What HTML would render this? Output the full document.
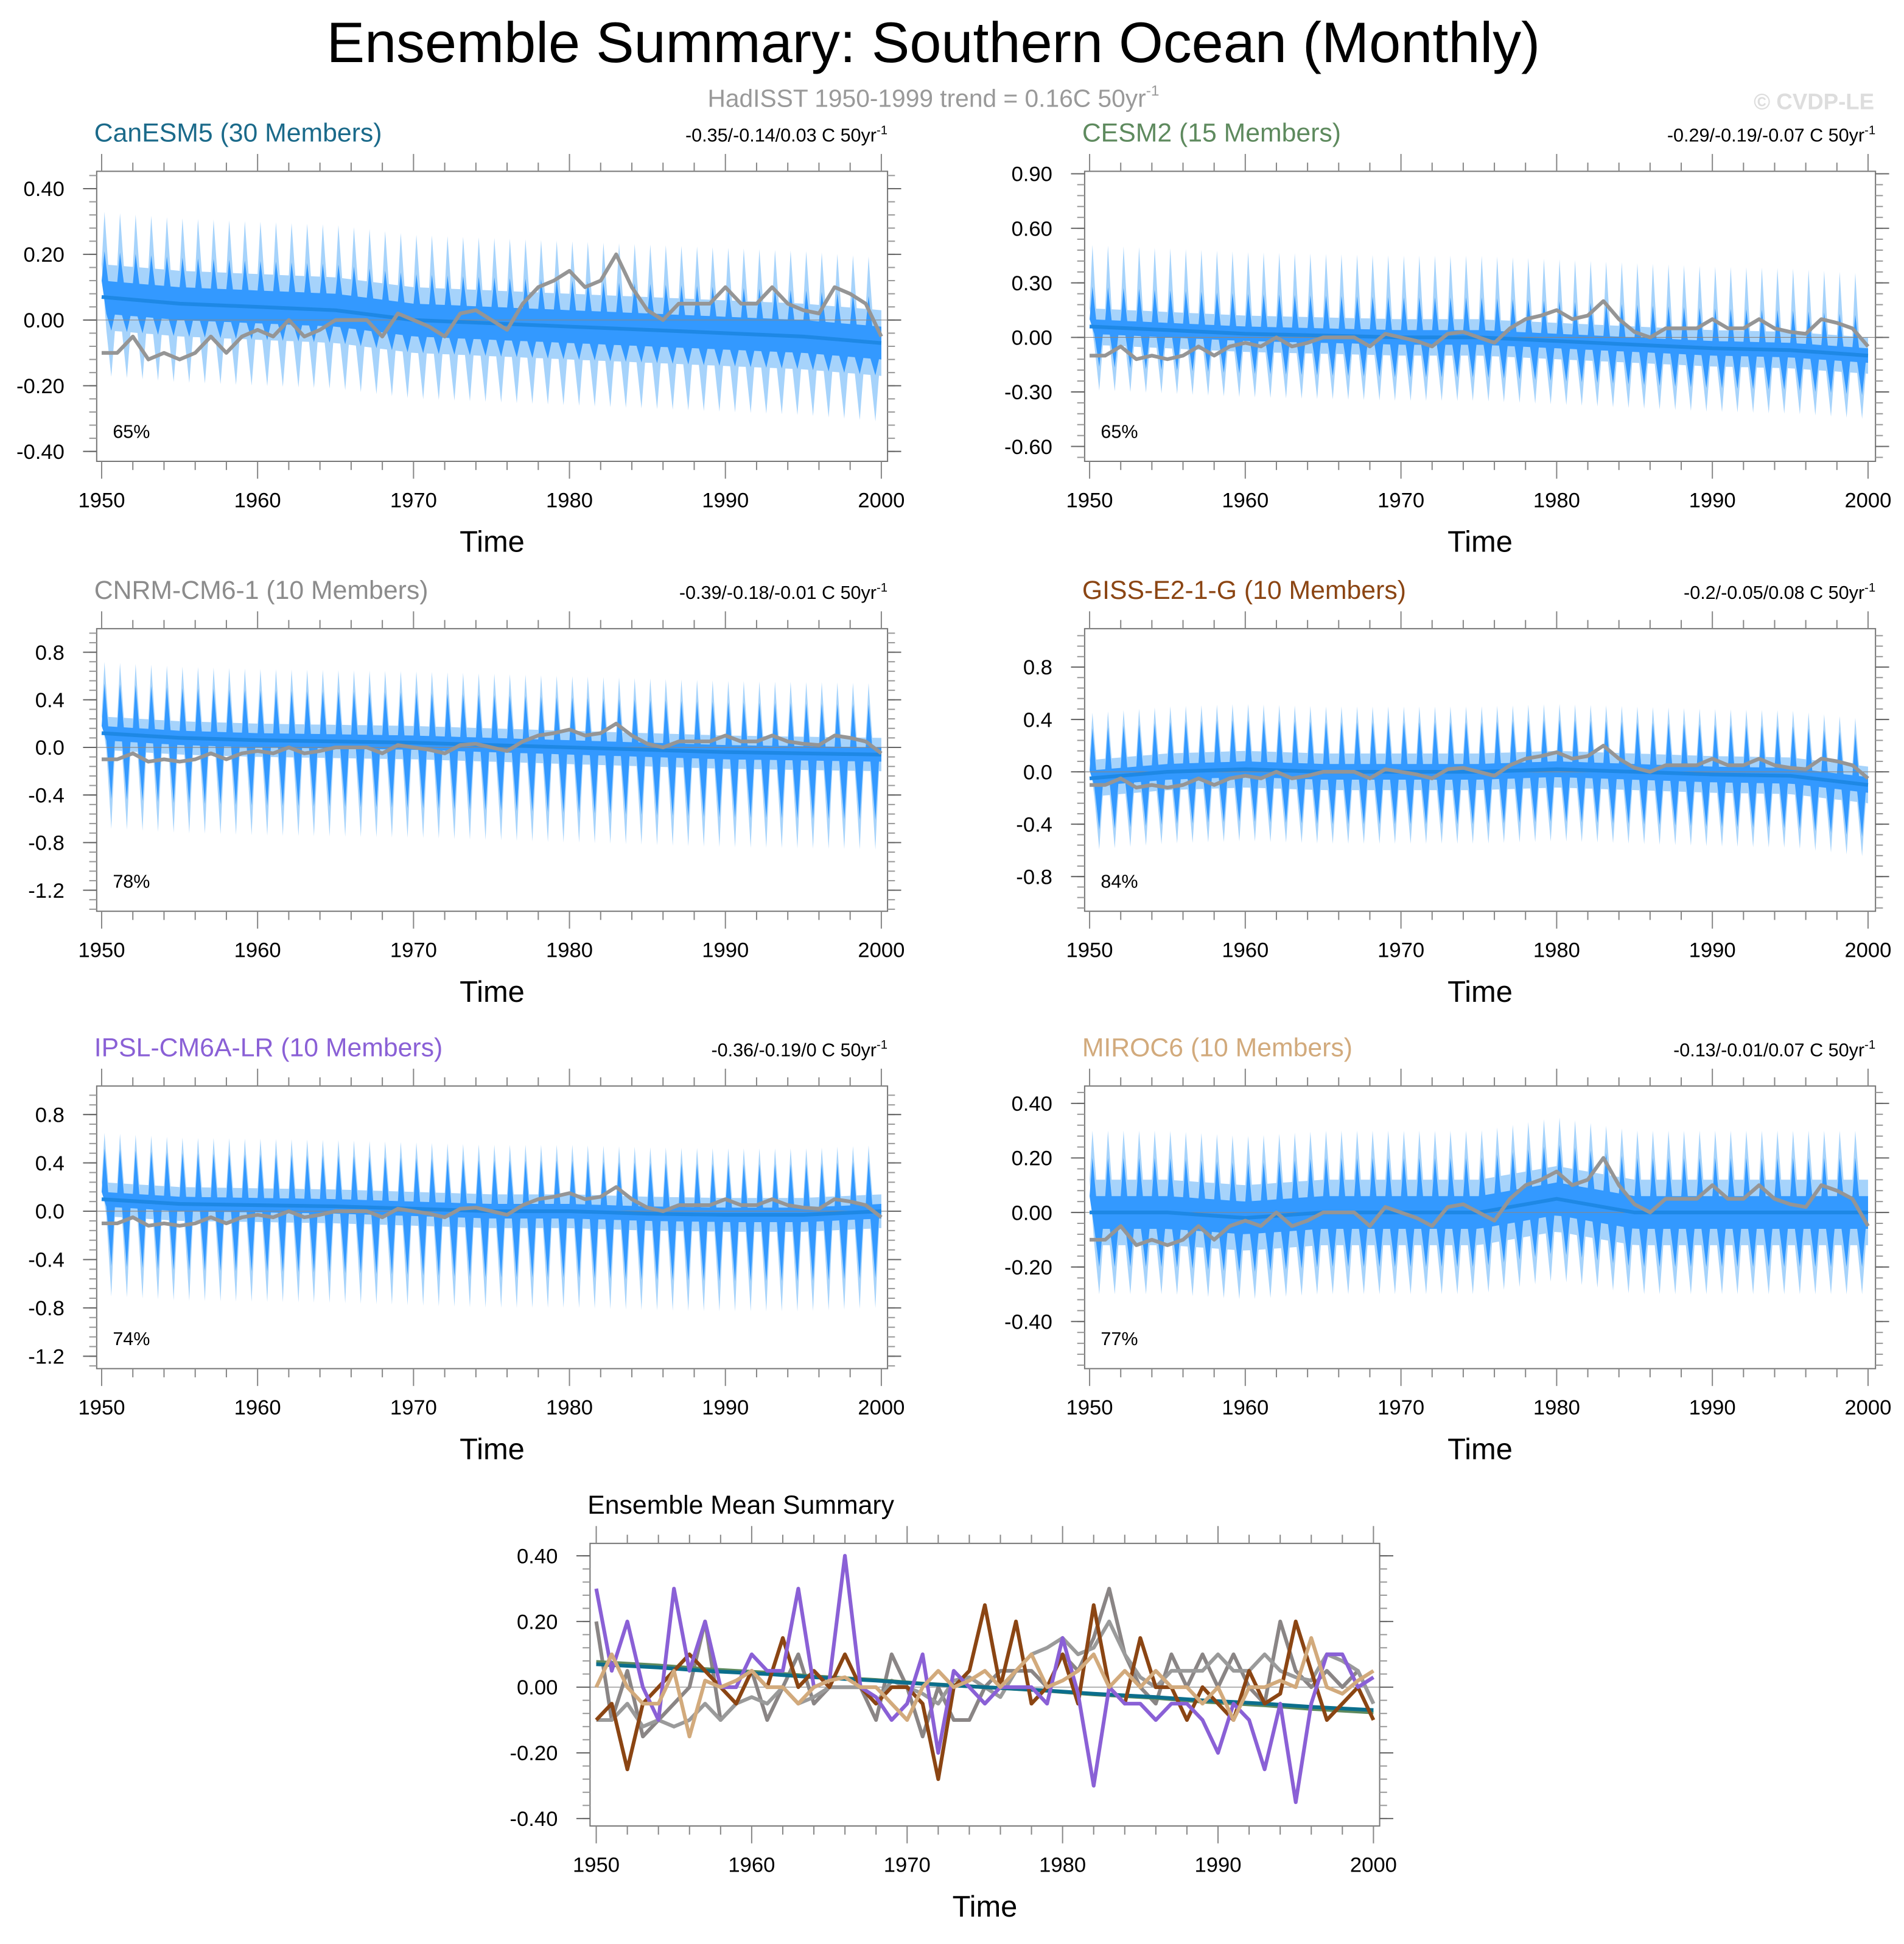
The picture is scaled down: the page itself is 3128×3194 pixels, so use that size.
<!DOCTYPE html>
<html><head><meta charset="utf-8"><style>
html,body{margin:0;padding:0;background:#fff}
svg{display:block;font-family:"Liberation Sans",sans-serif}
</style></head><body>
<svg id="chart" width="3128" height="3194" viewBox="0 0 1536 1568" xmlns="http://www.w3.org/2000/svg">
<text x="753" y="50" font-size="46" text-anchor="middle">Ensemble Summary: Southern Ocean (Monthly)</text>
<text x="753" y="86" font-size="20" fill="#999" text-anchor="middle">HadISST 1950-1999 trend = 0.16C 50yr<tspan font-size="12" dy="-9">-1</tspan></text>
<text x="1512" y="88" font-size="18" fill="#ddd" font-weight="bold" text-anchor="end">© CVDP-LE</text>
<g id="plots"></g>
</svg>
<script>
const years=[1950,1955,1960,1965,1970,1975,1980,1985,1990,1995,2000];
const obsYears=[];for(let y=1950;y<=2000;y++)obsYears.push(y);
const obs=[-0.1,-0.1,-0.05,-0.12,-0.1,-0.12,-0.1,-0.05,-0.1,-0.05,-0.03,-0.05,0.0,-0.05,-0.03,0.0,0.0,0.0,-0.05,0.02,0.0,-0.02,-0.05,0.02,0.03,0.0,-0.03,0.05,0.1,0.12,0.15,0.1,0.12,0.2,0.1,0.03,0.0,0.05,0.05,0.05,0.1,0.05,0.05,0.1,0.05,0.03,0.02,0.1,0.08,0.05,-0.05];
const meanCanESM5=[0.07,0.05,0.04,0.03,0.0,-0.01,-0.02,-0.03,-0.04,-0.05,-0.07];
const meanCESM2=[0.06,0.04,0.02,0.01,0.0,0.0,-0.02,-0.04,-0.06,-0.07,-0.1];
const meanCNRM=[0.12,0.08,0.06,0.05,0.04,0.02,0.0,-0.02,-0.04,-0.05,-0.06];
const meanGISS=[-0.05,0.0,0.02,0.0,0.0,0.0,0.02,0.0,-0.02,-0.03,-0.1];
const meanIPSL=[0.1,0.06,0.05,0.04,0.02,0.0,0.0,-0.02,-0.03,-0.03,0.0];
const meanMIROC=[0.0,0.0,-0.02,0.0,0.0,0.0,0.05,0.0,0.0,0.0,0.0];
const innerSpread=[0.05,0.04,0.06,0.06,0.06,0.06];
const outerSpread=[0.1,0.1,0.14,0.14,0.14,0.12];
const innerUp=[0.14,0.22,0.42,0.38,0.42,0.2];
const innerDown=[0.1,0.22,0.55,0.4,0.55,0.2];
const outerUp=[0.26,0.45,0.6,0.5,0.55,0.3];
const outerDown=[0.24,0.35,0.8,0.55,0.8,0.3];
const tealMean=[0.07,0.06,0.05,0.04,0.03,0.02,0.01,0.0,-0.01,-0.02,-0.03,-0.04,-0.05,-0.06,-0.07];
const purpleMean=[0.3,0.05,0.2,0.0,-0.1,0.3,0.05,0.2,0.0,0.0,0.1,0.05,0.05,0.3,0.0,0.02,0.4,0.0,-0.03,-0.1,-0.05,0.1,-0.2,0.05,0.0,-0.05,0.0,0.0,0.0,-0.05,0.15,-0.02,-0.3,0.0,-0.05,-0.05,-0.1,-0.05,-0.05,-0.1,-0.2,-0.05,-0.1,-0.25,-0.05,-0.35,-0.05,0.1,0.1,0.0,0.03];
const brownMean=[-0.1,-0.05,-0.25,-0.05,0.0,0.05,0.1,0.05,0.0,-0.05,0.05,0.0,0.15,0.0,0.05,0.0,0.1,0.0,-0.05,0.0,0.0,-0.05,-0.28,0.0,0.05,0.25,0.0,0.2,-0.05,0.0,0.1,-0.05,0.25,0.0,-0.05,0.15,0.0,0.0,-0.1,0.0,-0.05,-0.1,0.05,-0.05,-0.02,0.2,0.05,-0.1,-0.05,0.0,-0.1];
const tanMean=[0.0,0.1,0.0,-0.05,-0.05,0.05,-0.15,0.02,0.0,0.02,0.05,0.0,0.0,-0.05,0.0,0.02,0.03,0.0,0.0,-0.05,-0.1,0.0,0.05,0.0,0.02,0.05,0.0,0.05,0.1,0.0,0.02,0.05,0.1,0.0,0.05,0.0,0.05,0.0,0.0,-0.05,0.0,-0.1,0.0,0.0,0.02,0.0,0.15,0.0,-0.02,0.02,0.05];
const grayMean=[0.2,-0.1,0.05,-0.15,-0.1,-0.05,0.0,0.2,-0.1,-0.05,0.05,-0.1,0.0,0.1,-0.05,0.0,0.0,0.0,-0.1,0.1,0.0,-0.15,0.0,-0.1,-0.1,0.0,0.05,0.05,0.05,0.0,0.1,0.05,0.15,0.3,0.1,0.0,-0.05,0.1,0.0,0.1,0.0,0.1,0.0,-0.05,0.2,0.05,0.0,0.05,0.0,0.05,-0.05];
const tealYears=[1950,1954,1957,1961,1964,1968,1971,1975,1979,1982,1986,1989,1993,1996,2000];

const NS="http://www.w3.org/2000/svg";
const root=document.getElementById('plots');
function mk(tag,attrs,parent){const e=document.createElementNS(NS,tag);for(const k in attrs)e.setAttribute(k,attrs[k]);(parent||root).appendChild(e);return e;}

const panels=[
 {name:'canesm5',title:'CanESM5 (30 Members)',color:'#1b6a8a',trend:'-0.35/-0.14/0.03 C 50yr',pct:'65%',bx:[78,716],by:[138,372],xa:[82,711],ticks:[0.4,0.2,0,-0.2,-0.4],tpx:[152,364],fmt:2,mean:meanCanESM5,k:0},
 {name:'cesm2',title:'CESM2 (15 Members)',color:'#5e8a5e',trend:'-0.29/-0.19/-0.07 C 50yr',pct:'65%',bx:[875,1513],by:[138,372],xa:[879,1507],ticks:[0.9,0.6,0.3,0,-0.3,-0.6],tpx:[140,360],fmt:2,mean:meanCESM2,k:1},
 {name:'cnrm-cm6-1',title:'CNRM-CM6-1 (10 Members)',color:'#8c8c8c',trend:'-0.39/-0.18/-0.01 C 50yr',pct:'78%',bx:[78,716],by:[507,735],xa:[82,711],ticks:[0.8,0.4,0,-0.4,-0.8,-1.2],tpx:[526,718],fmt:1,mean:meanCNRM,k:2},
 {name:'giss-e2-1-g',title:'GISS-E2-1-G (10 Members)',color:'#8b4513',trend:'-0.2/-0.05/0.08 C 50yr',pct:'84%',bx:[875,1513],by:[507,735],xa:[879,1507],ticks:[0.8,0.4,0,-0.4,-0.8],tpx:[538,707],fmt:1,mean:meanGISS,k:3},
 {name:'ipsl-cm6a-lr',title:'IPSL-CM6A-LR (10 Members)',color:'#8a60d6',trend:'-0.36/-0.19/0 C 50yr',pct:'74%',bx:[78,716],by:[876,1104],xa:[82,711],ticks:[0.8,0.4,0,-0.4,-0.8,-1.2],tpx:[899,1094],fmt:1,mean:meanIPSL,k:4},
 {name:'miroc6',title:'MIROC6 (10 Members)',color:'#d2aa7c',trend:'-0.13/-0.01/0.07 C 50yr',pct:'77%',bx:[875,1513],by:[876,1104],xa:[879,1507],ticks:[0.4,0.2,0,-0.2,-0.4],tpx:[890,1066],fmt:2,mean:meanMIROC,k:5},
 {name:'ensemble-mean-summary',title:'Ensemble Mean Summary',color:'#000',bx:[476,1113],by:[1245,1473],xa:[481,1108],ticks:[0.4,0.2,0,-0.2,-0.4],tpx:[1255,1467],fmt:2,summary:true}
];

function axes(p){
 const t0=p.ticks[0],t1=p.ticks[p.ticks.length-1];
 const ys=v=>p.tpx[0]+(v-t0)*(p.tpx[1]-p.tpx[0])/(t1-t0);
 const xs=y=>p.xa[0]+(y-1950)*(p.xa[1]-p.xa[0])/50;
 return {xs,ys};
}
function interp(xArr,vArr,x){for(let i=0;i<xArr.length-1;i++){if(x<=xArr[i+1]){const t=(x-xArr[i])/(xArr[i+1]-xArr[i]);return vArr[i]+t*(vArr[i+1]-vArr[i]);}}return vArr[vArr.length-1];}
function linePath(xsArr,vals,xs,ys){return vals.map((v,i)=>(i?'L':'M')+xs(xsArr[i]).toFixed(1)+','+ys(v).toFixed(1)).join('');}

panels.forEach(p=>{
 const {xs,ys}=axes(p);
 const g=mk('g',{});  
 const cid='clip-'+p.name;
 const cp=mk('clipPath',{id:cid},g); mk('rect',{x:p.bx[0],y:p.by[0],width:p.bx[1]-p.bx[0],height:p.by[1]-p.by[0]},cp);
 const plot=mk('g',{'clip-path':'url(#'+cid+')'},g);
 if(!p.summary){
  const band=(base,up,down)=>{
   const U=[],L=[];
   for(let yr=1950;yr<2000;yr++){
    const m=t=>interp(years,p.mean,t);
    U.push([yr,m(yr)+base],[yr+0.18,m(yr+0.18)+up],[yr+0.42,m(yr+0.42)+base]);
    L.push([yr+0.3,m(yr+0.3)-base],[yr+0.62,m(yr+0.62)-down],[yr+0.85,m(yr+0.85)-base]);
   }
   U.push([2000,interp(years,p.mean,2000)+base]);L.push([2000,interp(years,p.mean,2000)-base]);
   return 'M'+U.map(q=>xs(q[0]).toFixed(1)+','+ys(q[1]).toFixed(1)).join('L')+'L'+L.reverse().map(q=>xs(q[0]).toFixed(1)+','+ys(q[1]).toFixed(1)).join('L')+'Z';};
  const ob=mk('path',{d:band(outerSpread[p.k],outerUp[p.k],outerDown[p.k]),fill:'#a6d3fb'},plot);
   
  const ib=mk('path',{d:band(innerSpread[p.k],innerUp[p.k],innerDown[p.k]),fill:'#3399ff'},plot);
   
  mk('line',{x1:p.bx[0],x2:p.bx[1],y1:ys(0),y2:ys(0),stroke:'#888','stroke-width':0.6},plot);
  const ml=mk('path',{d:linePath(years,p.mean,xs,ys),fill:'none',stroke:'#1e88e5','stroke-width':3},plot);
   
  const ol=mk('path',{d:linePath(obsYears,obs,xs,ys),fill:'none',stroke:'#959595','stroke-width':3,'stroke-linejoin':'round'},plot);
   
  const pt=mk('text',{x:p.bx[0]+13,y:p.by[1]-19,'font-size':15},g); pt.textContent=p.pct;
   
  const tt=mk('text',{x:p.bx[1],y:p.by[0]-24,'font-size':15,'text-anchor':'end'},g);
   
  tt.textContent=p.trend; const sp=mk('tspan',{'font-size':10,dy:-6},tt); sp.textContent='-1';
 } else {
  mk('line',{x1:p.bx[0],x2:p.bx[1],y1:ys(0),y2:ys(0),stroke:'#888','stroke-width':0.6},plot);
  const series=[['cnrm-mean-line',obsYears,grayMean,'#8a8585'],['obs-line',obsYears,obs,'#9a9a9a'],['cesm2-mean-line',tealYears,tealMean.map(v=>v*1.1),'#5e8a5e'],['canesm5-mean-line',tealYears,tealMean,'#0b6e8c'],['giss-mean-line',obsYears,brownMean,'#8b4513'],['ipsl-mean-line',obsYears,purpleMean,'#8a60d6'],['miroc6-mean-line',obsYears,tanMean,'#d2aa7c']];
  series.forEach(s=>{const l=mk('path',{d:linePath(s[1],s[2],xs,ys),fill:'none',stroke:s[3],'stroke-width':3,'stroke-linejoin':'round'},plot);
    });
 }
 const fr=mk('rect',{x:p.bx[0],y:p.by[0],width:p.bx[1]-p.bx[0],height:p.by[1]-p.by[0],fill:'none',stroke:'#777','stroke-width':1},g);
  
 const t0=p.ticks[0],t1=p.ticks[p.ticks.length-1],step=(t0-t1)/(p.ticks.length-1);
 for(let v=t0+step;v>=t1-step-1e-9;v-=step/5){const y=ys(v);if(y<p.by[0]||y>p.by[1])continue;
  mk('line',{x1:p.bx[0]-6,x2:p.bx[0],y1:y,y2:y,stroke:'#999','stroke-width':1},g);
  mk('line',{x1:p.bx[1],x2:p.bx[1]+6,y1:y,y2:y,stroke:'#999','stroke-width':1},g);}
 p.ticks.forEach(v=>{const y=ys(v);
  mk('line',{x1:p.bx[0]-11,x2:p.bx[0],y1:y,y2:y,stroke:'#666','stroke-width':1},g);
  mk('line',{x1:p.bx[1],x2:p.bx[1]+11,y1:y,y2:y,stroke:'#666','stroke-width':1},g);
  const t=mk('text',{x:p.bx[0]-26,y:y+6,'font-size':17,'text-anchor':'end'},g); t.textContent=v.toFixed(p.fmt);
   });
 for(let yr=1950;yr<=2000;yr+=2){const x=xs(yr),major=yr%10==0,len=major?14:7;
  mk('line',{x1:x,x2:x,y1:p.by[0]-len,y2:p.by[0],stroke:'#888','stroke-width':1},g);
  mk('line',{x1:x,x2:x,y1:p.by[1],y2:p.by[1]+len,stroke:'#888','stroke-width':1},g);
  if(major){const t=mk('text',{x:x,y:p.by[1]+37,'font-size':17,'text-anchor':'middle'},g);t.textContent=yr;
    }}
 const xt=mk('text',{x:(p.bx[0]+p.bx[1])/2,y:p.by[1]+73,'font-size':24,'text-anchor':'middle'},g); xt.textContent='Time';
  
 const ti=mk('text',{x:p.bx[0]-2,y:p.by[0]-24,'font-size':21,fill:p.color},g); ti.textContent=p.title;
  
});
</script>
</body></html>
